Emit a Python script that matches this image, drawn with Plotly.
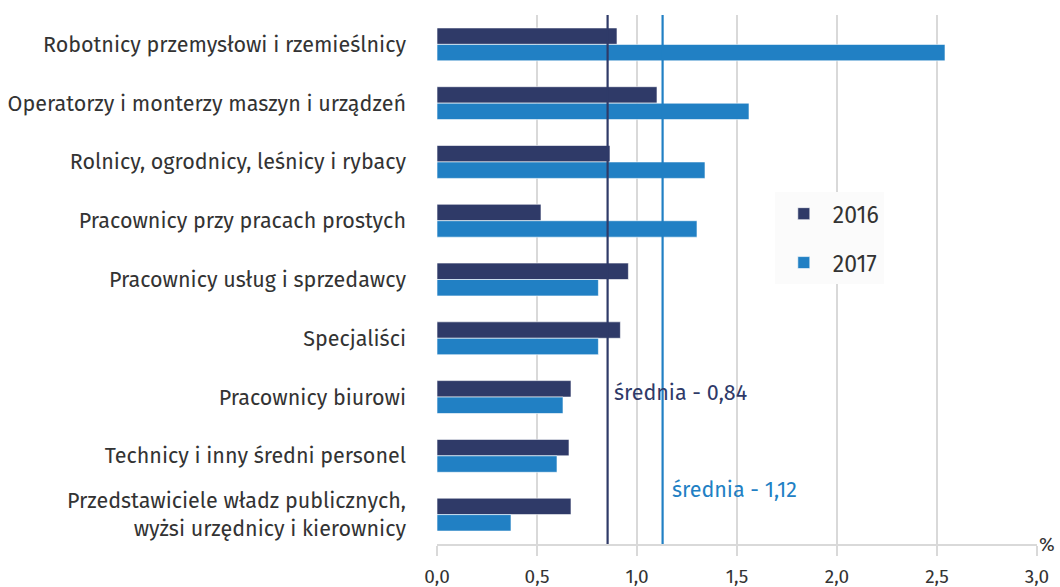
import plotly.graph_objects as go

categories = [
    "Robotnicy przemysłowi i rzemieślnicy",
    "Operatorzy i monterzy maszyn i urządzeń",
    "Rolnicy, ogrodnicy, leśnicy i rybacy",
    "Pracownicy przy pracach prostych",
    "Pracownicy usług i sprzedawcy",
    "Specjaliści",
    "Pracownicy biurowi",
    "Technicy i inny średni personel",
    "Przedstawiciele władz publicznych,<br>wyżsi urzędnicy i kierownicy",
]
values_2016 = [0.90, 1.10, 0.865, 0.52, 0.957, 0.917, 0.67, 0.66, 0.67]
values_2017 = [2.54, 1.56, 1.34, 1.30, 0.807, 0.807, 0.63, 0.60, 0.37]
mean_2016 = 0.853
mean_2017 = 1.128
mean_labels = ["średnia - 0,84", "średnia - 1,12"]
x_ticks = [0, 0.5, 1.0, 1.5, 2.0, 2.5, 3.0]

C16 = "#2f3a68"
C17 = "#2180c4"
FONT = "Fira Sans, Open Sans, Noto Sans, sans-serif"

fig = go.Figure()
fig.add_trace(go.Bar(
    y=categories, x=values_2016, orientation="h", name="2016",
    marker=dict(color=C16, line=dict(color="rgba(255,255,255,0.6)", width=1)),
    legendgroup="a",
))
fig.add_trace(go.Bar(
    y=categories, x=values_2017, orientation="h", name="2017",
    marker=dict(color=C17, line=dict(color="rgba(255,255,255,0.6)", width=1)),
    legendgroup="b",
))

for val, col in [(mean_2016, C16), (mean_2017, C17)]:
    fig.add_shape(type="line", xref="x", yref="paper", x0=val, x1=val, y0=0, y1=1,
                  line=dict(color=col, width=2.2), layer="above")

fig.add_annotation(x=mean_2016, y=5.93, xref="x", yref="y", text=mean_labels[0],
                   showarrow=False, xanchor="left", yanchor="middle", xshift=4,
                   font=dict(family=FONT, size=21.5, color=C16))
fig.add_annotation(x=mean_2017, y=7.58, xref="x", yref="y", text=mean_labels[1],
                   showarrow=False, xanchor="left", yanchor="middle", xshift=7,
                   font=dict(family=FONT, size=21.5, color=C17))
fig.add_annotation(x=1, y=0, xref="paper", yref="paper", text="%",
                   showarrow=False, xanchor="left", yanchor="middle", xshift=0, yshift=0,
                   font=dict(family=FONT, size=19, color="#333333"))

fig.update_layout(
    width=1060, height=587,
    margin=dict(l=437, r=23, t=15, b=43, autoexpand=False),
    paper_bgcolor="white", plot_bgcolor="white",
    barmode="group", bargap=0.44, bargroupgap=0,
    separators=", ",
    font=dict(family=FONT, size=21, color="#333333"),
    legend=dict(
        x=0.563, y=0.665, xanchor="left", yanchor="top",
        bgcolor="#fbfbfb", borderwidth=0,
        font=dict(family=FONT, size=23, color="#333333"),
        traceorder="grouped", tracegroupgap=16,
        itemwidth=48,
        entrywidth=125, entrywidthmode="pixels",
    ),
    xaxis=dict(
        range=[0, 3.0], tickvals=x_ticks, tickformat=".1f",
        showgrid=True, gridcolor="#d9d9d9", gridwidth=2,
        showline=True, linecolor="#d9d9d9", linewidth=2,
        ticks="outside", ticklen=10, tickcolor="#d9d9d9", tickwidth=2,
        ticklabelstandoff=4,
        tickfont=dict(family=FONT, size=19, color="#333333"),
        zeroline=False,
    ),
    yaxis=dict(
        range=[8.5, -0.5],
        showgrid=False, zeroline=False, showline=False,
        ticks="", ticklabelstandoff=30,
        tickfont=dict(family=FONT, size=21.5, color="#333333"),
    ),
)

fig.write_html("out.html", config={"displayModeBar": False},
               post_script="document.body.style.margin='0';")
